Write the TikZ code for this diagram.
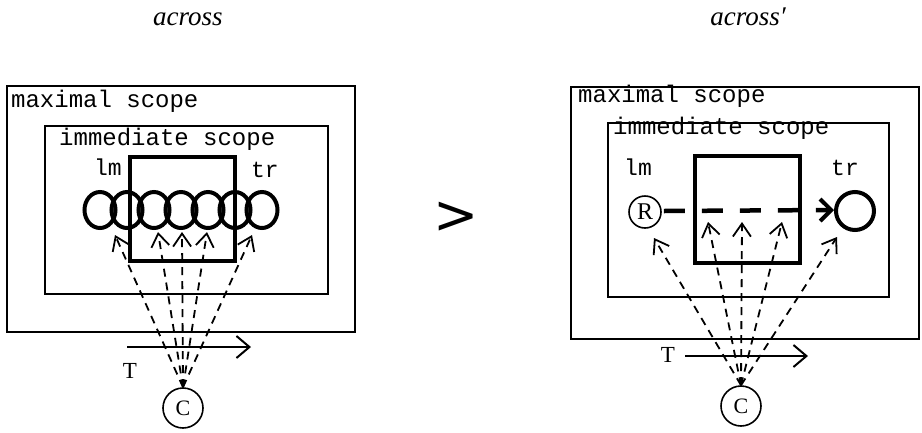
\documentclass[tikz,border=0pt]{standalone}
\usepackage{fontspec}
\setmainfont{Liberation Serif}
\setmonofont{Liberation Mono}
\newfontfamily\symfont{DejaVu Sans}
\usetikzlibrary{arrows.meta,shapes.geometric}
\begin{document}
\begin{tikzpicture}[x=1pt,y=-1pt,
  scopebox/.style={draw,line width=1.8pt,inner sep=0pt},
  thickbox/.style={draw,line width=4.5pt,inner sep=0pt},
  ring/.style={ellipse,draw,line width=4pt,inner sep=0pt,minimum width=31pt,minimum height=36pt},
  bigring/.style={circle,draw,line width=4pt,inner sep=0pt,minimum size=38pt},
  thincirc/.style={circle,draw,line width=1.6pt,inner sep=0pt,font=\fontsize{22}{24}\selectfont},
  boxlabel/.style={font=\ttfamily\fontsize{24}{26}\selectfont,inner sep=0pt,anchor=base west},
  rolelabel/.style={font=\ttfamily\fontsize{23}{25}\selectfont,inner sep=0pt,anchor=base},
  serlabel/.style={font=\fontsize{23}{25}\selectfont,inner sep=0pt,anchor=base},
  titlelabel/.style={font=\itshape\fontsize{27}{29}\selectfont,inner sep=0pt,anchor=base},
  scan/.style={line width=1.8pt,dash pattern=on 8pt off 6pt,-{Straight Barb[length=13pt,width=18pt,line width=1.8pt]}},
  timearrow/.style={line width=2pt,-{Straight Barb[length=13pt,width=22pt,line width=2pt]}},
  relline/.style={line width=4.5pt,dash pattern=on 21pt off 17pt,-{Straight Barb[length=11pt,width=22pt,line width=4pt]}}
]
\useasboundingbox (0,0) rectangle (922,432);

% titles
\node[titlelabel] (tA) at (188,25) {across};
\node[titlelabel] (tB) at (748,25) {across′};
\node[font=\symfont\fontsize{54}{56}\selectfont,inner sep=0pt] (gt) at (456,218) {>};

% ---------------- left diagram ----------------
\node[scopebox,minimum width=348pt,minimum height=246pt] (maxL) at (181,209) {};
\node[scopebox,minimum width=283pt,minimum height=168pt] (immL) at (186.5,210) {};
\node[thickbox,minimum width=105pt,minimum height=104pt] (sqL) at (182.5,209) {};
\node[boxlabel] (maxLt) at (11,107) {maximal scope};
\node[boxlabel] (immLt) at (59,145) {immediate scope};
\node[rolelabel] (lmL) at (108,175) {lm};
\node[rolelabel] (trL) at (265,177) {tr};

\foreach \i/\x in {1/100,2/127,3/154,4/181,5/208,6/235,7/262}
  \node[ring] (o\i) at (\x,210) {};

\node[thincirc,minimum size=40pt] (cL) at (183,408) {C};
\node[serlabel] (TL) at (130,378) {T};
\coordinate (tl1) at (115,235);
\coordinate (tl2) at (158,232);
\coordinate (tl3) at (182,232);
\coordinate (tl4) at (207,232);
\coordinate (tl5) at (252,235);
\foreach \k in {1,...,5}
  \draw[scan] (cL.north) -- (tl\k);
\coordinate (aL1) at (127,347);
\coordinate (aL2) at (251,347);
\draw[timearrow] (aL1) -- (aL2);

% ---------------- right diagram ----------------
\node[scopebox,minimum width=348pt,minimum height=252pt] (maxR) at (745,213) {};
\node[scopebox,minimum width=281pt,minimum height=174pt] (immR) at (748.5,210) {};
\node[thickbox,minimum width=105pt,minimum height=107pt] (sqR) at (747.5,209.5) {};
\node[boxlabel] (maxRt) at (578,102) {maximal scope};
\node[boxlabel] (immRt) at (613,134) {immediate scope};
\node[rolelabel] (lmR) at (638,175) {lm};
\node[rolelabel] (trR) at (845,175) {tr};

\node[thincirc,minimum size=32pt,font=\fontsize{24}{26}\selectfont] (R) at (645,212) {R};
\node[bigring] (trc) at (855,211) {};
\draw[relline] ([xshift=2pt,yshift=1pt]R.east) -- ([yshift=1pt]trc.west);

\node[thincirc,minimum size=40pt] (cR) at (741,406) {C};
\node[serlabel] (TR) at (668,362) {T};
\coordinate (tr1) at (654,238);
\coordinate (tr2) at (708,222);
\coordinate (tr3) at (742,222);
\coordinate (tr4) at (782,222);
\coordinate (tr5) at (837,237);
\foreach \k in {1,...,5}
  \draw[scan] (cR.north) -- (tr\k);
\coordinate (aR1) at (685,356);
\coordinate (aR2) at (808,356);
\draw[timearrow] (aR1) -- (aR2);
\end{tikzpicture}
\end{document}
